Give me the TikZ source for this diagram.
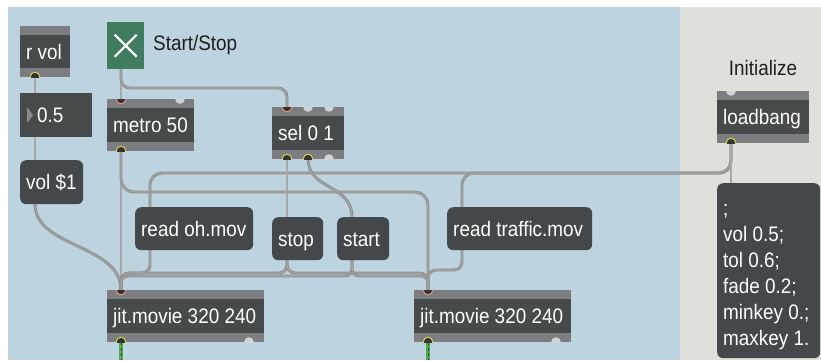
\documentclass[tikz,border=0pt]{standalone}
\usepackage{fontspec}
\setmainfont[FakeStretch=0.9]{Liberation Sans}
\usetikzlibrary{calc}

\definecolor{panelblue}{HTML}{BDD3E0}
\definecolor{panelgray}{HTML}{E0E0DB}
\definecolor{objdark}{HTML}{474A4B}
\definecolor{objstrip}{HTML}{7C7D81}
\definecolor{msgdark}{HTML}{45484A}
\definecolor{cordedge}{HTML}{8A8A8A}
\definecolor{cordmid}{HTML}{A8A8A8}
\definecolor{hotin}{HTML}{E8907E}
\definecolor{outring}{HTML}{D2D24E}
\definecolor{portgray}{HTML}{D2D2D2}
\definecolor{togglegreen}{HTML}{3F7D5E}
\definecolor{matrixgreen}{HTML}{4DAA4D}

\tikzset{
  objtext/.style={text=white, font=\fontsize{21}{24}\selectfont, inner sep=0pt, anchor=base west},
  labeltext/.style={text=black!88, font=\fontsize{21}{24}\selectfont, inner sep=0pt},
  boxbase/.style={draw=none, inner sep=0pt, anchor=north west},
  cord/.style={draw=cordedge, line width=0.9pt, double=cordmid, double distance=1.1pt, rounded corners=9pt},
  matrixcord/.style={draw=matrixgreen, line width=3.6pt,
    postaction={draw=black!75, line width=1pt, dash pattern=on 3pt off 2.5pt}},
  hotport/.style={fill=black!80, draw=hotin, line width=1pt},
  outport/.style={fill=black!80, draw=outring, line width=1pt},
  freeport/.style={fill=portgray},
}

% object box: name, x, y, width, height, text
\newcommand{\maxobj}[6]{%
  \node[boxbase, fill=objdark, minimum width=#4pt, minimum height=#5pt] (#1) at (#2,#3) {};
  \fill[objstrip] (#1.north west) rectangle ($(#1.north east)+(0,9)$);
  \fill[objstrip] (#1.south west) rectangle ($(#1.south east)+(0,-9)$);
  \node[objtext] (#1-t) at ($(#1.west)+(6,7.5)$) {#6};
}
% message box: name, x, y, width, height, text
\newcommand{\maxmsg}[6]{%
  \node[boxbase, fill=msgdark, rounded corners=6pt, minimum width=#4pt, minimum height=#5pt] (#1) at (#2,#3) {};
  \node[objtext] (#1-t) at ($(#1.west)+(6,7.5)$) {#6};
}
% port mark on the edge of a box: box, point, style
\newcommand{\portmark}[3]{%
  \begin{scope}
    \clip (#1.south west) rectangle (#1.north east);
    \path[#3] (#2) circle (4.8pt);
  \end{scope}
}

\begin{document}
\begin{tikzpicture}[x=1pt,y=-1pt]
\useasboundingbox (0,0) rectangle (821,360);
\fill[white] (0,0) rectangle (821,360);
\fill[panelblue] (8,7) rectangle (680,360);
\fill[panelgray] (680,7) rectangle (821,360);

% inlet and outlet positions
\coordinate (rvolO) at (35,77);
\coordinate (numI) at (35,93);
\coordinate (numO) at (35,137);
\coordinate (volI) at (35,160);
\coordinate (volO) at (35,204);
\coordinate (togO) at (121,69);
\coordinate (metI) at (121,99);
\coordinate (metIb) at (180,99);
\coordinate (metO) at (121,151);
\coordinate (selI) at (287,107);
\coordinate (selIb) at (308,107);
\coordinate (selIc) at (329,107);
\coordinate (selOa) at (287,159);
\coordinate (selOb) at (308,159);
\coordinate (selOc) at (329,159);
\coordinate (stopI) at (287,217);
\coordinate (stopO) at (287,260);
\coordinate (startI) at (352,217);
\coordinate (startO) at (352,260);
\coordinate (ohI) at (150,207);
\coordinate (ohO) at (150,250);
\coordinate (trI) at (462,207);
\coordinate (trO) at (462,250);
\coordinate (lbI) at (731,91);
\coordinate (lbO) at (731,143);
\coordinate (initI) at (731,183);
\coordinate (movAI) at (121,290);
\coordinate (movBI) at (428,290);
\coordinate (movAO) at (121,342);
\coordinate (movBO) at (428,342);
\coordinate (movAOb) at (249,342);
\coordinate (movBOb) at (556,342);
\coordinate (movAend) at (121,360);
\coordinate (movBend) at (428,360);

% patch cords
\draw[cord] (rvolO) -- (numI);
\draw[cord] (numO) -- (volI);
\draw[cord] (volO) .. controls (35,248) and (121,244) .. (movAI);
\draw[cord] (togO) -- (metI);
\draw[cord] (togO) -- (121,88) -- (287,88) -- (selI);
\draw[cord] (metO) -- (movAI);
\draw[cord, rounded corners=13pt] (metO) -- (121,192) -- (428,192) -- (movBI);
\draw[cord, rounded corners=12pt] (lbO) -- (731,173) -- (150,173) -- (ohI);
\draw[cord, rounded corners=12pt] (lbO) -- (731,173) -- (462,173) -- (trI);
\draw[cord] (lbO) -- (initI);
\draw[cord] (selOa) -- (stopI);
\draw[cord] (selOb) .. controls (308,190) and (352,184) .. (startI);
\draw[cord, rounded corners=8pt] (ohO) -- (150,273) -- (121,273) -- (movAI);
\draw[cord, rounded corners=8pt] (stopO) -- (287,273) -- (121,273) -- (movAI);
\draw[cord, rounded corners=8pt] (stopO) -- (287,273) -- (428,273) -- (movBI);
\draw[cord, rounded corners=7pt] (startO) -- (352,276) -- (121,276) -- (movAI);
\draw[cord, rounded corners=7pt] (startO) -- (352,276) -- (428,276) -- (movBI);
\draw[cord, rounded corners=8pt] (trO) -- (462,270) -- (428,270) -- (movBI);
\draw[matrixcord] (movAO) -- (movAend);
\draw[matrixcord] (movBO) -- (movBend);

% toggle
\node[boxbase, fill=togglegreen, minimum width=37pt, minimum height=47pt] (tog) at (107,22) {};
\draw[white, line width=2.2pt] ($(tog.center)+(-11,-11)$) -- ($(tog.center)+(11,11)$)
  ($(tog.center)+(11,-11)$) -- ($(tog.center)+(-11,11)$);
\node[labeltext, anchor=base west] (lblss) at (153,50) {Start/Stop};
\node[labeltext, anchor=base] (lblinit) at (763,75) {Initialize};

% number box
\node[boxbase, fill=objdark, minimum width=72pt, minimum height=44pt] (num) at (20,93) {};
\fill[black!45] (27,107) -- (33,115) -- (27,123) -- cycle;
\node[objtext] (num-t) at (37,122.5) {0.5};

% objects
\maxobj{rvol}{20}{26}{50}{51}{r vol}
\maxobj{metro}{107}{99}{87}{52}{metro 50}
\maxobj{sel}{272}{107}{72}{52}{sel 0 1}
\maxobj{lb}{717}{91}{92}{52}{loadbang}
\maxobj{movA}{107}{290}{157}{52}{jit.movie 320 240}
\maxobj{movB}{414}{290}{157}{52}{jit.movie 320 240}

% messages
\maxmsg{vol}{20}{160}{63}{44}{vol \$1}
\maxmsg{oh}{135}{207}{118}{43}{read oh.mov}
\maxmsg{stop}{272}{217}{51}{43}{stop}
\maxmsg{start}{337}{217}{52}{43}{start}
\maxmsg{traffic}{447}{207}{145}{43}{read traffic.mov}
\node[boxbase, fill=msgdark, rounded corners=6pt, minimum width=103pt, minimum height=175pt] (init) at (717,183) {};
\node[objtext] (init-a) at (723,215) {;};
\node[objtext] (init-b) at (723,241) {vol 0.5;};
\node[objtext] (init-c) at (723,267) {tol 0.6;};
\node[objtext] (init-d) at (723,293) {fade 0.2;};
\node[objtext] (init-e) at (723,319) {minkey 0.;};
\node[objtext] (init-f) at (723,345) {maxkey 1.};

% ports
\portmark{rvol}{rvolO}{outport}
\portmark{metro}{metI}{hotport}
\portmark{metro}{metIb}{freeport}
\portmark{metro}{metO}{outport}
\portmark{sel}{selI}{hotport}
\portmark{sel}{selIb}{freeport}
\portmark{sel}{selIc}{freeport}
\portmark{sel}{selOa}{outport}
\portmark{sel}{selOb}{outport}
\portmark{sel}{selOc}{freeport}
\portmark{lb}{lbI}{freeport}
\portmark{lb}{lbO}{outport}
\portmark{movA}{movAI}{hotport}
\portmark{movA}{movAO}{outport}
\portmark{movA}{movAOb}{freeport}
\portmark{movB}{movBI}{hotport}
\portmark{movB}{movBO}{outport}
\portmark{movB}{movBOb}{freeport}
\end{tikzpicture}
\end{document}
